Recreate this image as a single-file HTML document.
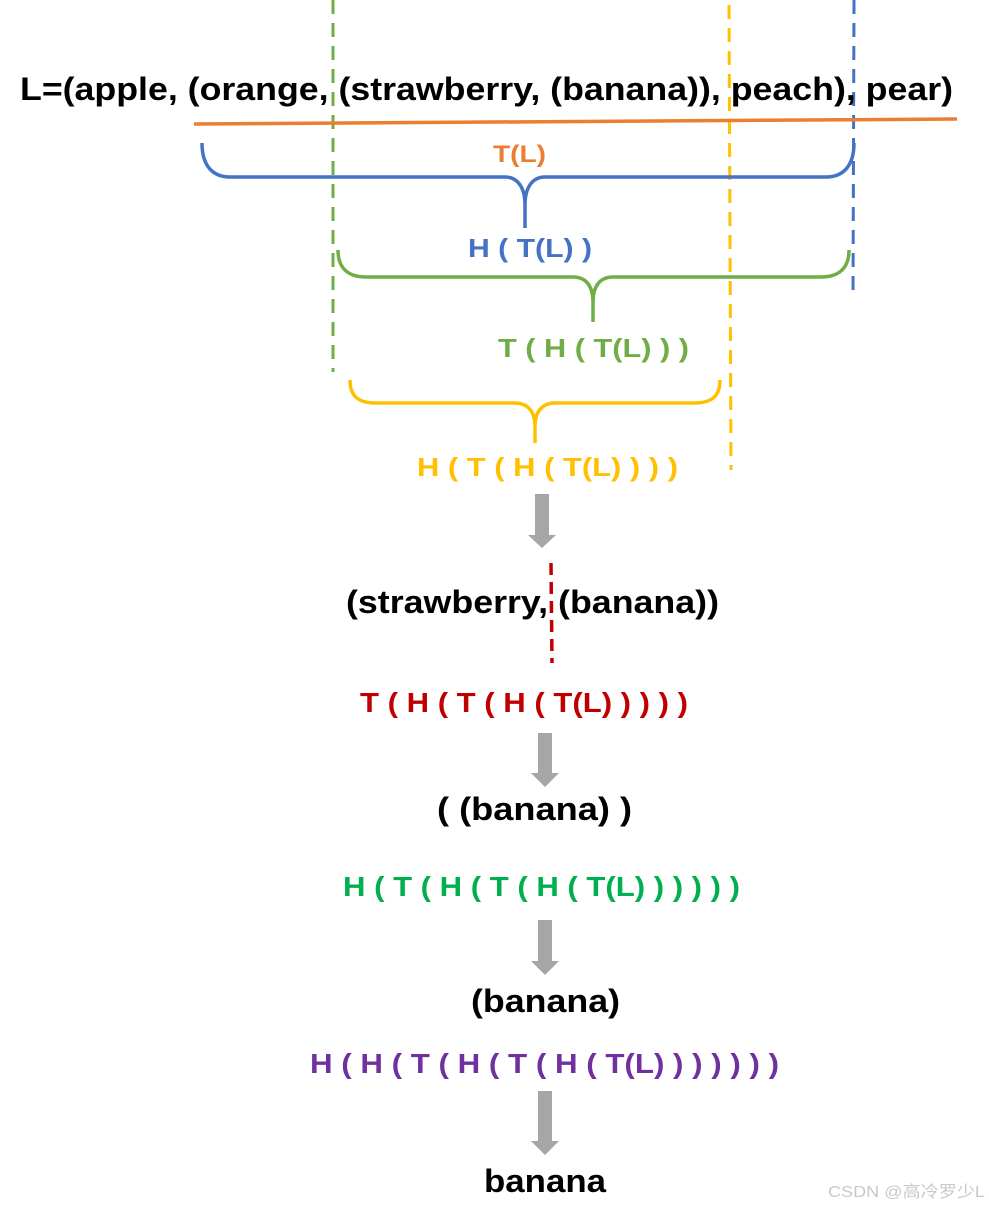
<!DOCTYPE html>
<html><head><meta charset="utf-8"><style>
html,body{margin:0;padding:0;background:#fff;}
svg{display:block;}
text{font-family:"Liberation Sans","Noto Sans CJK SC",sans-serif;font-weight:bold;}
</style></head><body>
<svg width="989" height="1208" viewBox="0 0 989 1208" xmlns="http://www.w3.org/2000/svg">
<!-- dashed verticals -->
<line x1="333" y1="0" x2="333" y2="372" stroke="#70ad47" stroke-width="3" stroke-dasharray="14,9"/>
<line x1="729" y1="5" x2="731" y2="470" stroke="#ffc000" stroke-width="3" stroke-dasharray="14,9"/>
<line x1="854" y1="0" x2="853" y2="298" stroke="#4472c4" stroke-width="3" stroke-dasharray="14,9"/>
<!-- title -->
<text x="20" y="100" font-size="32" fill="#000" textLength="933" lengthAdjust="spacingAndGlyphs">L=(apple, (orange, (strawberry, (banana)), peach), pear)</text>
<!-- orange line -->
<line x1="194" y1="124" x2="957" y2="119" stroke="#ed7d31" stroke-width="3.5"/>
<!-- blue brace -->
<path d="M202,143 C202,165 212,177 230,177 L505,177 C518,177 525,188 525,205 L525,228 M525,205 C525,188 532,177 545,177 L826,177 C844,177 854,165 854,143" fill="none" stroke="#4472c4" stroke-width="3.5"/>
<text x="493" y="162" font-size="24" fill="#ed7d31" textLength="53" lengthAdjust="spacingAndGlyphs">T(L)</text>
<text x="468" y="257" font-size="26" fill="#4472c4" textLength="124" lengthAdjust="spacingAndGlyphs">H ( T(L) )</text>
<!-- green brace -->
<path d="M338,250 C338,268 348,277 366,277 L573,277 C586,277 593,286 593,302 L593,322 M593,302 C593,286 600,277 613,277 L821,277 C839,277 849,268 849,250" fill="none" stroke="#70ad47" stroke-width="3.5"/>
<text x="498" y="357" font-size="26" fill="#70ad47" textLength="191" lengthAdjust="spacingAndGlyphs">T ( H ( T(L) ) )</text>
<!-- yellow brace -->
<path d="M350,380 C350,396 358,403 376,403 L515,403 C528,403 535,412 535,426 L535,443 M535,426 C535,412 542,403 555,403 L694,403 C712,403 720,396 720,380" fill="none" stroke="#ffc000" stroke-width="3.5"/>
<text x="417" y="476" font-size="26" fill="#ffc000" textLength="261" lengthAdjust="spacingAndGlyphs">H ( T ( H ( T(L) ) ) )</text>
<!-- arrows -->
<g fill="#a6a6a6">
<path d="M535,494 L549,494 L549,535 L556,535 L542,548 L528,535 L535,535 Z"/>
<path d="M538,733 L552,733 L552,773 L559,773 L545,787 L531,773 L538,773 Z"/>
<path d="M538,920 L552,920 L552,961 L559,961 L545,975 L531,961 L538,961 Z"/>
<path d="M538,1091 L552,1091 L552,1141 L559,1141 L545,1155 L531,1141 L538,1141 Z"/>
</g>
<text x="346" y="613" font-size="32" fill="#000" textLength="373" lengthAdjust="spacingAndGlyphs">(strawberry, (banana))</text>
<line x1="551" y1="563" x2="552" y2="663" stroke="#c00000" stroke-width="3.5" stroke-dasharray="12,7"/>
<text x="360" y="712" font-size="28" fill="#c00000" textLength="328" lengthAdjust="spacingAndGlyphs">T ( H ( T ( H ( T(L) ) ) ) )</text>
<text x="437" y="820" font-size="32" fill="#000" textLength="195" lengthAdjust="spacingAndGlyphs">( (banana) )</text>
<text x="343" y="896" font-size="28" fill="#00b050" textLength="397" lengthAdjust="spacingAndGlyphs">H ( T ( H ( T ( H ( T(L) ) ) ) ) )</text>
<text x="471" y="1012" font-size="32" fill="#000" textLength="149" lengthAdjust="spacingAndGlyphs">(banana)</text>
<text x="310" y="1073" font-size="28" fill="#7030a0" textLength="469" lengthAdjust="spacingAndGlyphs">H ( H ( T ( H ( T ( H ( T(L) ) ) ) ) ) )</text>
<text x="484" y="1192" font-size="32" fill="#000" textLength="122" lengthAdjust="spacingAndGlyphs">banana</text>
<text x="828" y="1197" font-size="16" fill="#c8c8c8" font-weight="normal" style="font-weight:normal" textLength="157" lengthAdjust="spacingAndGlyphs">CSDN @高冷罗少L</text>
</svg>
</body></html>
